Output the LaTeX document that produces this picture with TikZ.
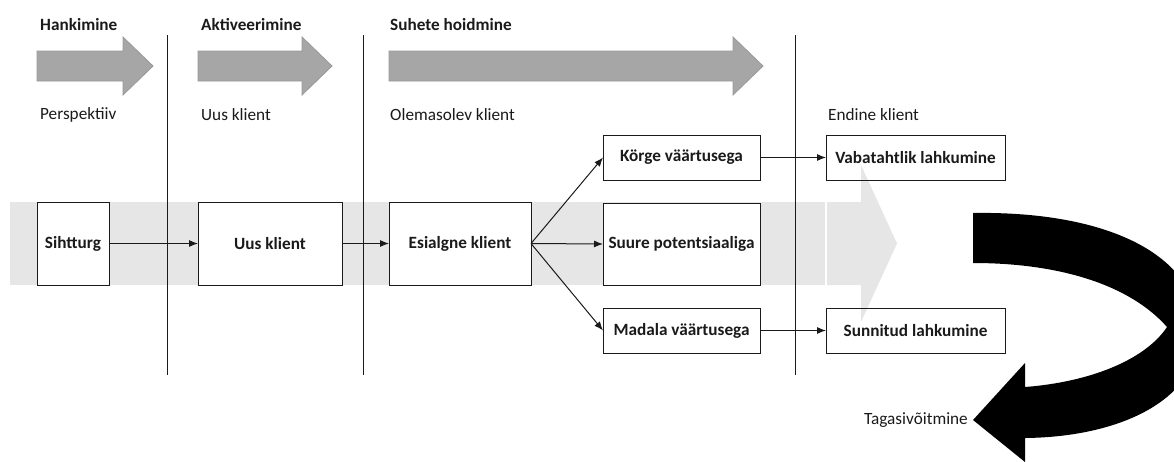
\documentclass[tikz,border=0pt]{standalone}
\usepackage{fontspec}
\setmainfont{Carlito}
\usepackage{xcolor}
\usepackage{tikz}
\usetikzlibrary{arrows.meta}
\definecolor{ink}{HTML}{1A1A1A}
\definecolor{phasegray}{HTML}{A6A6A6}
\definecolor{phaseline}{HTML}{989898}
\definecolor{bandgray}{HTML}{E6E6E6}
\newcommand{\txtsize}{\fontsize{17.2}{20}\selectfont}
\tikzset{
  phase/.style={fill=phasegray, draw=phaseline, line width=0.8pt},
  band/.style={fill=bandgray},
  sep/.style={draw=ink, line width=1pt},
  box/.style={draw=ink, line width=1pt, fill=white, inner sep=0pt, outer sep=0pt, font=\txtsize\bfseries, text=ink},
  hdr/.style={anchor=west, inner sep=0pt, font=\txtsize\bfseries, text=ink},
  lbl/.style={anchor=west, inner sep=0pt, font=\txtsize, text=ink},
  flow/.style={draw=ink, line width=1pt, -{Latex[length=9pt,width=7pt]}}
}

\begin{document}
\begin{tikzpicture}[x=1pt, y=-1pt]
    \useasboundingbox (0,0) rectangle (1174,461);

    % --- PHASES ---
    \node[hdr] (hankimine) at (40,25) {Hankimine};
    \node[hdr] (aktiveerimine) at (201,25) {Aktiveerimine};
    \node[hdr] (hoidmine) at (390,25) {Suhete hoidmine};

    \draw[phase] (37,51)--(123,51)--(123,37)--(153,66)--(123,95)--(123,81)--(37,81)--cycle;
    \draw[phase] (198,51)--(302,51)--(302,37)--(332,66)--(302,95)--(302,81)--(198,81)--cycle;
    \draw[phase] (389,51)--(733,51)--(733,37)--(763,66)--(733,95)--(733,81)--(389,81)--cycle;

    \node[lbl] (perspektiiv) at (40,115) {Perspektiiv};
    \node[lbl] (uuslbl) at (201,115) {Uus klient};
    \node[lbl] (olemasolev) at (390,115) {Olemasolev klient};
    \node[lbl] (endine) at (828,115) {Endine klient};

    % --- BAND ---
    \fill[band] (10,202) rectangle (825,285);
    \fill[band] (827,202)--(861,202)--(861,165)--(897,243.5)--(861,322)--(861,285)--(827,285)--cycle;

    \draw[sep] (167,35)--(167,375);
    \draw[sep] (363,35)--(363,375);
    \draw[sep] (795,35)--(795,375);

    % --- CUSTOMERS ---
    \node[box, minimum width=72, minimum height=83] (sihtturg) at (73,243.5) {Sihtturg};
    \node[box, minimum width=144, minimum height=83] (uus) at (270,243.5) {Uus klient};
    \node[box, minimum width=142, minimum height=83] (esialgne) at (460,243.5) {Esialgne klient};

    \node[box, minimum width=157, minimum height=45] (korge) at (681.5,157.5) {Körge väärtusega};
    \node[box, minimum width=157, minimum height=82] (suure) at (681.5,244) {Suure potentsiaaliga};
    \node[box, minimum width=157, minimum height=45] (madala) at (681.5,330.5) {Madala väärtusega};

    \node[box, fill=none, minimum width=179, minimum height=45] (vaba) at (915.5,157.5) {Vabatahtlik lahkumine};
    \node[box, fill=none, minimum width=179, minimum height=45] (sunnitud) at (915.5,330.5) {Sunnitud lahkumine};

    \draw[flow] (sihtturg.east)--(uus.west);
    \draw[flow] (uus.east)--(esialgne.west);
    \draw[flow] (esialgne.east)--(korge.west);
    \draw[flow] (esialgne.east)--(suure.west);
    \draw[flow] (esialgne.east)--(madala.west);
    \draw[flow] (korge.east)--(vaba.west);
    \draw[flow] (madala.east)--(sunnitud.west);

    % --- WIN-BACK ---
    \begin{scope}
        \clip (0,0) rectangle (1174,461);
        \fill[black] (973,213) .. controls (1100,211) and (1195,250) .. (1200,330)
            .. controls (1200,400) and (1120,437) .. (1025,438)
            -- (1025,462) -- (973,420) -- (1025,363) -- (1025,387)
            .. controls (1090,382) and (1145,360) .. (1167,327)
            .. controls (1130,285) and (1060,263) .. (973,263) -- cycle;
    \end{scope}
    \node[lbl, anchor=east] (tagasi) at (968,420) {Tagasivõitmine};
\end{tikzpicture}
\end{document}
